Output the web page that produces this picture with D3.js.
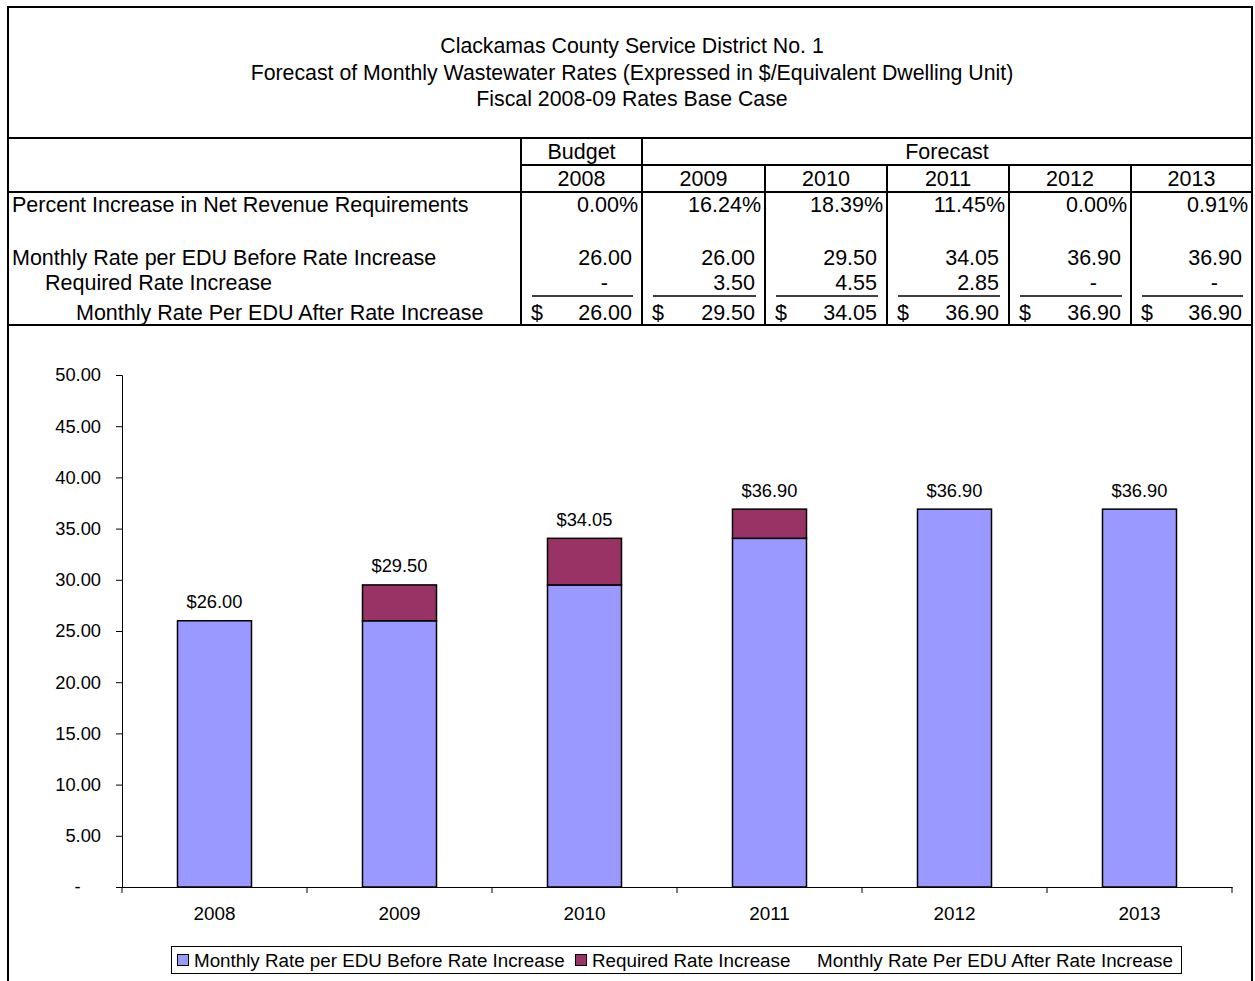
<!DOCTYPE html>
<html>
<head>
<meta charset="utf-8">
<script src="https://cdn.jsdelivr.net/npm/d3@7"></script>
<style>
  body { margin: 0; background: #fff; }
  svg { display: block; font-family: "Liberation Sans", Arial, sans-serif; }
</style>
</head>
<body>
<div id="chart"></div>
<script>
// data
const years = ["2008", "2009", "2010", "2011", "2012", "2013"];
const pctIncrease = [0.00, 16.24, 18.39, 11.45, 0.00, 0.91];
const rateBefore = [26.00, 26.00, 29.50, 34.05, 36.90, 36.90];
const rateIncrease = [0, 3.50, 4.55, 2.85, 0, 0];
const rateAfter = [26.00, 29.50, 34.05, 36.90, 36.90, 36.90];
const yTicks = [0, 5, 10, 15, 20, 25, 30, 35, 40, 45, 50];
const titleLines = [
    "Clackamas County Service District No. 1",
    "Forecast of Monthly Wastewater Rates (Expressed in $/Equivalent Dwelling Unit)",
    "Fiscal 2008-09 Rates Base Case"
];
const seriesNames = [
    "Monthly Rate per EDU Before Rate Increase",
    "Required Rate Increase",
    "Monthly Rate Per EDU After Rate Increase"
];

const W = 1255, H = 981;
const BLUE = "#9999FF", MAROON = "#993366";
const LEFT = 8, RIGHT = 1252;
const colEdges = [8, 521, 642, 765, 887, 1009, 1131, 1252];
const TABLE_FONT = 21.5;
const CHART_FONT = 18.3;

const svg = d3.select("#chart").append("svg")
    .attr("width", W)
    .attr("height", H);

const hline = (x1, x2, y, w = 2) => svg.append("line")
    .attr("x1", x1).attr("x2", x2).attr("y1", y).attr("y2", y)
    .attr("stroke", "#000").attr("stroke-width", w);
const vline = (x, y1, y2, w = 2) => svg.append("line")
    .attr("x1", x).attr("x2", x).attr("y1", y1).attr("y2", y2)
    .attr("stroke", "#000").attr("stroke-width", w);
const txt = (x, y, s, anchor = "start", size = TABLE_FONT) => svg.append("text")
    .attr("x", x).attr("y", y)
    .attr("text-anchor", anchor)
    .attr("dominant-baseline", "central")
    .attr("font-size", size)
    .attr("fill", "#000")
    .text(s);

// cadre + titre
hline(LEFT - 1, RIGHT + 1, 7);
vline(LEFT, 7, H + 5);
vline(RIGHT, 7, H + 5);
titleLines.forEach((t, i) => txt(632, 46 + i * 26.5, t, "middle", 21.3));

// tableau
hline(LEFT, RIGHT, 138);
hline(colEdges[1], RIGHT, 165);
hline(LEFT, RIGHT, 192);
hline(LEFT, RIGHT, 325);

vline(colEdges[1], 138, 325);
vline(colEdges[2], 138, 325);
colEdges.slice(3, 7).forEach(x => vline(x, 165, 325));

txt((colEdges[1] + colEdges[2]) / 2, 152, "Budget", "middle");
txt((colEdges[2] + RIGHT) / 2, 152, "Forecast", "middle");
years.forEach((y, i) => txt((colEdges[i + 1] + colEdges[i + 2]) / 2, 179, y, "middle"));

txt(12, 205, "Percent Increase in Net Revenue Requirements");
txt(12, 258, "Monthly Rate per EDU Before Rate Increase");
txt(45, 283, "Required Rate Increase");
txt(76, 313, "Monthly Rate Per EDU After Rate Increase");

const fmt2 = d3.format(".2f");
years.forEach((y, i) => {
    const l = colEdges[i + 1], r = colEdges[i + 2];
    txt(r - 4, 205, fmt2(pctIncrease[i]) + "%", "end");
    txt(r - 10, 258, fmt2(rateBefore[i]), "end");
    if (rateIncrease[i] === 0) txt(r - 34, 283, "-", "end");
    else txt(r - 10, 283, fmt2(rateIncrease[i]), "end");
    hline(l + 11, r - 9, 296, 1.5);
    txt(l + 10, 313, "$");
    txt(r - 10, 313, fmt2(rateAfter[i]), "end");
});

// graphique
const x = d3.scaleBand()
    .domain(years)
    .range([122, 1232])
    .paddingInner(0.6)
    .paddingOuter(0.3);

const y = d3.scaleLinear()
    .domain([0, 50])
    .range([887, 375]);

const yAxis = d3.axisLeft(y)
    .tickValues(yTicks)
    .tickSize(6)
    .tickPadding(15)
    .tickFormat(d => d === 0 ? "-    " : fmt2(d));

const gy = svg.append("g")
    .attr("transform", "translate(122,0)")
    .call(yAxis);
gy.selectAll("text").attr("font-size", CHART_FONT).attr("font-family", "Liberation Sans, Arial, sans-serif").attr("fill", "#000").style("white-space", "pre");
gy.selectAll("line, path").attr("stroke", "#000");

const xAxis = d3.axisBottom(x).tickSize(0).tickPadding(20);
const gx = svg.append("g")
    .attr("transform", "translate(0,887)")
    .call(xAxis);
gx.selectAll("text").attr("font-size", 18.9).attr("font-family", "Liberation Sans, Arial, sans-serif").attr("fill", "#000");
gx.select("path").attr("stroke", "#000");

// ticks aux limites des catégories
const step = x.step();
const bounds = years.map(d => x(d) - step * x.paddingInner() / 2);
bounds.push(x(years[years.length - 1]) + x.bandwidth() + step * x.paddingInner() / 2);
svg.selectAll(".btick")
    .data(bounds)
    .join("line")
    .attr("class", "btick")
    .attr("x1", d => d).attr("x2", d => d)
    .attr("y1", 887).attr("y2", 893)
    .attr("stroke", "#000");

// barres
const bars = svg.append("g");
bars.selectAll(".before")
    .data(years)
    .join("rect")
    .attr("x", d => x(d))
    .attr("width", x.bandwidth())
    .attr("y", (d, i) => y(rateBefore[i]))
    .attr("height", (d, i) => y(0) - y(rateBefore[i]))
    .attr("fill", BLUE)
    .attr("stroke", "#000")
    .attr("stroke-width", 1.5);

const incData = years.map((d, i) => ({ year: d, base: rateBefore[i], inc: rateIncrease[i] }))
    .filter(d => d.inc > 0);
bars.selectAll(".inc")
    .data(incData)
    .join("rect")
    .attr("x", d => x(d.year))
    .attr("width", x.bandwidth())
    .attr("y", d => y(d.base + d.inc))
    .attr("height", d => y(d.base) - y(d.base + d.inc))
    .attr("fill", MAROON)
    .attr("stroke", "#000")
    .attr("stroke-width", 1.5);

// étiquettes
svg.selectAll(".lbl")
    .data(years)
    .join("text")
    .attr("x", d => x(d) + x.bandwidth() / 2)
    .attr("y", (d, i) => y(rateAfter[i]) - 19)
    .attr("text-anchor", "middle")
    .attr("dominant-baseline", "central")
    .attr("font-size", CHART_FONT)
    .text((d, i) => "$" + fmt2(rateAfter[i]));

// légende
svg.append("rect")
    .attr("x", 171.5).attr("y", 946.5)
    .attr("width", 1010).attr("height", 27)
    .attr("fill", "#fff").attr("stroke", "#000");

const legendItems = [
    { x: 177, color: BLUE, name: seriesNames[0] },
    { x: 575, color: MAROON, name: seriesNames[1] },
    { x: 800, color: null, name: seriesNames[2] }
];
legendItems.forEach(it => {
    if (it.color) {
        svg.append("rect")
            .attr("x", it.x + 0.5).attr("y", 954.5)
            .attr("width", 11).attr("height", 11)
            .attr("fill", it.color).attr("stroke", "#000");
    }
    txt(it.x + 17, 960, it.name, "start", 18.8);
});
</script>
</body>
</html>
